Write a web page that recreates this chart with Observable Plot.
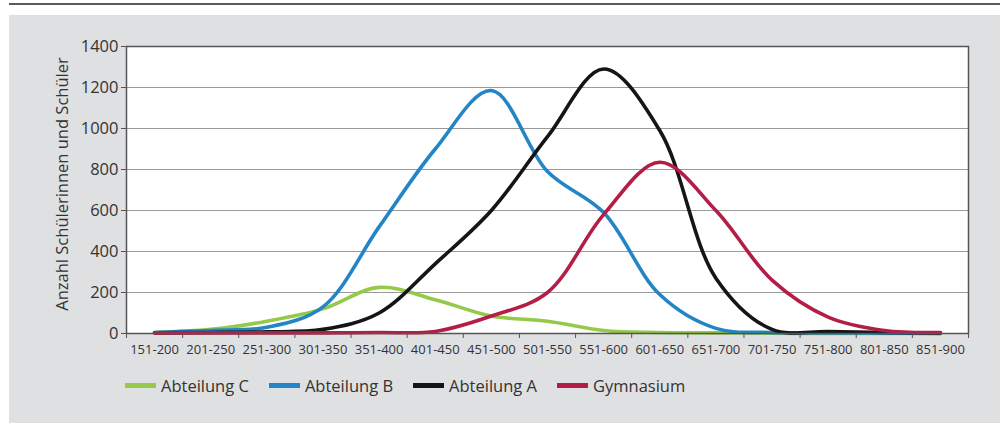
<!DOCTYPE html>
<html>
<head>
<meta charset="utf-8">
<script src="https://cdn.jsdelivr.net/npm/d3@7"></script>
<script src="https://cdn.jsdelivr.net/npm/@observablehq/plot@0.6"></script>
<style>
  html, body { margin: 0; padding: 0; background: #fff; width: 1000px; height: 423px; overflow: hidden; }
  #topline { position: absolute; left: 9px; top: 3px; width: 991px; height: 2px; background: #5a5a5a; }
  #panel { position: absolute; left: 9px; top: 15px; width: 991px; height: 408px; background: #dfe0e2; font-family: "Open Sans", sans-serif; }
  #chart { position: absolute; left: 0; top: 0; }
  #legend { position: absolute; left: 116px; top: 359px; display: flex; align-items: center; font-size: 16.5px; color: #333; }
  .item { display: flex; align-items: center; margin-right: 20px; }
  .sw { width: 31px; height: 5px; margin-right: 5px; }
</style>
</head>
<body>
<div id="topline"></div>
<div id="panel">
  <div id="chart"></div>
  <div id="legend"></div>
</div>
<script>
const categories = ["151-200","201-250","251-300","301-350","351-400","401-450","451-500","501-550","551-600","601-650","651-700","701-750","751-800","801-850","851-900"];
const abteilungC = [5, 20, 60, 120, 225, 165, 85, 60, 15, 5, 3, 1, 0, 0, 0];
const abteilungB = [5, 15, 30, 130, 520, 900, 1185, 790, 590, 190, 25, 5, 3, 2, 0];
const abteilungA = [3, 5, 8, 20, 100, 340, 600, 960, 1290, 990, 270, 20, 10, 5, 3];
const gymnasium  = [3, 3, 3, 3, 5, 10, 85, 200, 580, 835, 600, 260, 80, 15, 5];
const seriesNames = ["Abteilung C", "Abteilung B", "Abteilung A", "Gymnasium"];
const seriesColors = ["#95c94a", "#2385c6", "#151515", "#b41e46"];
const yTicks = [0, 200, 400, 600, 800, 1000, 1200, 1400];
const yTitle = "Anzahl Schülerinnen und Schüler";

const seriesValues = [abteilungC, abteilungB, abteilungA, gymnasium];
const rows = [];
seriesValues.forEach((vals, s) => {
  vals.forEach((v, i) => rows.push({series: seriesNames[s], pos: i + 0.5, cat: categories[i], value: v}));
});

const chart = Plot.plot({
  width: 991,
  height: 345,
  marginTop: 31,
  marginBottom: 27,
  marginLeft: 117,
  marginRight: 32,
  style: {fontFamily: "Open Sans, sans-serif", color: "#333", background: "transparent", overflow: "visible"},
  x: {type: "linear", domain: [0, categories.length], label: null},
  y: {domain: [0, 1400], label: null},
  color: {domain: seriesNames, range: seriesColors},
  marks: [
    Plot.frame({fill: "#fff"}),
    Plot.gridY(yTicks, {stroke: "#9a9a9a", strokeOpacity: 1, strokeWidth: 1.2}),
    Plot.line(rows, {x: "pos", y: "value", z: "series", stroke: "series", strokeWidth: 3.6, curve: "catmull-rom"}),
    Plot.frame({stroke: "#555", strokeWidth: 1.5}),
    Plot.axisY(yTicks, {tickSize: 5, tickPadding: 3, fontSize: 16.5, stroke: "#555", tickFormat: d => String(d), label: null}),
    Plot.text([yTitle], {frameAnchor: "left", rotate: -90, dx: -64, dy: -6, textAnchor: "middle", fontSize: 16.5, fill: "#333", text: d => d}),
    Plot.axisX(d3.range(0, categories.length + 1), {tickSize: 5, tickFormat: () => "", stroke: "#555", label: null}),
    Plot.axisX(d3.range(categories.length).map(i => i + 0.5), {tickSize: 0, tickPadding: 11, fontSize: 13,
      tickFormat: d => categories[Math.floor(d)], label: null})
  ]
});
chart.querySelectorAll("text").forEach(t => { if (!t.getAttribute("fill")) t.setAttribute("fill", "#333"); });
document.getElementById("chart").appendChild(chart);

const legend = document.getElementById("legend");
seriesNames.forEach((n, i) => {
  const it = document.createElement("div");
  it.className = "item";
  it.innerHTML = `<div class="sw" style="background:${seriesColors[i]}"></div><span>${n}</span>`;
  legend.appendChild(it);
});
</script>
</body>
</html>
